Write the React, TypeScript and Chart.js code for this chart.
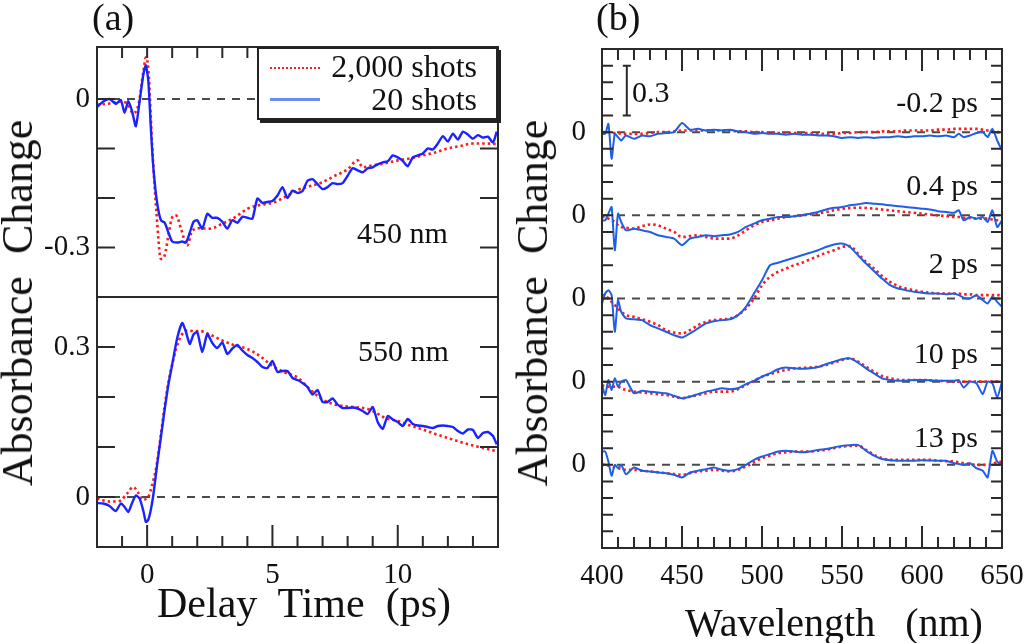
import { useEffect, useRef } from "react"
import Chart from "chart.js/auto"

// ── Look ─────────────────────────────────────────────────────
const SERIF   = "'Liberation Serif', 'Times New Roman', Times, serif"
const INK     = "#111111"
const FRAME   = "#2a2a2a"
const DASH    = "#4a4a4a"
const RED     = "#ff1a1a"
const BLUE_A  = "#1a22ff"
const BLUE_B  = "#1e5fe6"
const BLUE_LG = "#6a8cf0"

// ── (a) kinetics ─────────────────────────────────────────────
const A_X_MIN = -2
const A_X_MAX = 14

const T_BLUE = [
  -2, -1.75, -1.5, -1.25, -1.05, -0.9, -0.75, -0.6, -0.45, -0.3, -0.15, -0.05,
  0.05, 0.15, 0.25, 0.4, 0.55, 0.7, 0.85, 1.0,
  1.2, 1.4, 1.55, 1.7, 1.85, 2.0,
  2.2, 2.4, 2.6, 2.8, 3.0, 3.2, 3.4, 3.6, 3.8, 4.0,
  4.2, 4.4, 4.6, 4.8, 5.0, 5.2, 5.4, 5.6, 5.8, 6.0,
  6.2, 6.4, 6.6, 6.8, 7.0, 7.2, 7.4, 7.6, 7.8, 8.0,
  8.2, 8.4, 8.6, 8.8, 9.0, 9.2, 9.4, 9.6, 9.8, 10.0,
  10.2, 10.4, 10.6, 10.8, 11.0, 11.2, 11.4, 11.6, 11.8, 12.0,
  12.2, 12.4, 12.6, 12.8, 13.0, 13.2, 13.4, 13.6, 13.8,
  13.95,
]

// 450 nm, 20 shots
const ABS450_20 = [
  -0.016, -0.005, 0, -0.01, -0.002, -0.028, -0.004, -0.025, -0.055, -0.005, 0.05, 0.068,
  0.035, -0.06, -0.14, -0.21, -0.245, -0.25, -0.27, -0.288,
  -0.29, -0.288, -0.29, -0.27, -0.248, -0.245,
  -0.262, -0.232, -0.24, -0.24, -0.248, -0.262, -0.245, -0.25, -0.238, -0.24,
  -0.242, -0.201, -0.21, -0.208, -0.206, -0.195, -0.178, -0.2, -0.185, -0.19,
  -0.186, -0.165, -0.162, -0.172, -0.182, -0.178, -0.17, -0.172, -0.17, -0.155,
  -0.14, -0.144, -0.148, -0.14, -0.138, -0.132, -0.128, -0.126, -0.114, -0.118,
  -0.125, -0.136, -0.118, -0.114, -0.11, -0.1, -0.102, -0.09, -0.075, -0.086,
  -0.07, -0.082, -0.066, -0.072, -0.08, -0.073, -0.078, -0.076, -0.088,
  -0.066,
]

// 550 nm, 20 shots
const ABS550_20 = [
  -0.012, -0.013, -0.018, -0.028, -0.013, -0.02, -0.03, -0.012, 0.003, -0.003, -0.028, -0.05,
  -0.045, -0.025, 0.005, 0.065, 0.12, 0.175, 0.225, 0.265,
  0.318, 0.348, 0.33, 0.306, 0.325, 0.33,
  0.29, 0.326, 0.308, 0.298, 0.309, 0.286, 0.297, 0.304, 0.293, 0.284,
  0.278, 0.27, 0.26, 0.258, 0.272, 0.25, 0.252, 0.252, 0.238, 0.234,
  0.228, 0.22, 0.205, 0.214, 0.19, 0.19, 0.197, 0.185, 0.178, 0.178,
  0.179, 0.177, 0.172, 0.166, 0.18, 0.15, 0.136, 0.162, 0.155, 0.15,
  0.142, 0.156, 0.146, 0.143, 0.142, 0.14, 0.138, 0.142, 0.143, 0.142,
  0.14, 0.132, 0.127, 0.135, 0.134, 0.118, 0.128, 0.13, 0.122,
  0.105,
]

const T_RED = [
  -2, -1.5, -1.1, -0.8, -0.55, -0.35, -0.15, -0.05, 0.05, 0.2,
  0.37, 0.55, 0.7, 0.87, 1.0, 1.15, 1.35, 1.6, 1.8, 2.1,
  2.5, 3, 3.5, 4, 4.5, 5, 5.5, 6, 6.5, 7,
  7.5, 8, 8.4, 8.6, 9, 9.5, 10, 10.5, 11, 11.5,
  12, 12.5, 13, 13.5, 14,
]

// 450 nm, 2,000 shots
const ABS450_2000 = [
  -0.012, -0.009, -0.005, -0.009, -0.029, -0.012, 0.055, 0.084, 0.059, -0.093,
  -0.228, -0.323, -0.316, -0.269, -0.239, -0.235, -0.262, -0.296, -0.266, -0.261,
  -0.262, -0.252, -0.239, -0.222, -0.214, -0.21, -0.198, -0.184, -0.176, -0.168,
  -0.155, -0.142, -0.124, -0.138, -0.134, -0.13, -0.124, -0.12, -0.114, -0.108,
  -0.1, -0.095, -0.09, -0.09, -0.091,
]

// 550 nm, 2,000 shots
const ABS550_2000 = [
  -0.003, -0.009, -0.008, 0.007, 0.02, 0.008, -0.006, -0.004, 0.0, 0.024,
  0.061, 0.125, 0.182, 0.235, 0.265, 0.295, 0.322, 0.333, 0.332, 0.332,
  0.325, 0.313, 0.303, 0.296, 0.282, 0.262, 0.249, 0.239, 0.215, 0.195,
  0.185, 0.181, 0.179, 0.178, 0.172, 0.158, 0.152, 0.143, 0.135, 0.126,
  0.118, 0.11, 0.103, 0.097, 0.091,
]

const A_X_LABELS = [0, 5, 10]
const A_X_MINOR  = [-1, 1, 2, 3, 4, 6, 7, 8, 9, 11, 12, 13]
const A_TOP_Y_TICKS  = [-0.3, -0.2, -0.1, 0]
const A_TOP_Y_LABELS = [0, -0.3]
const A_BOT_Y_TICKS  = [0, 0.1, 0.2, 0.3]
const A_BOT_Y_LABELS = [0, 0.3]

// ── (b) spectra ──────────────────────────────────────────────
const WAVELENGTHS = [
  400, 402, 404, 406, 408, 410, 412,
  415, 420, 425, 430, 435, 440, 445, 450, 455, 460,
  465, 470, 475, 480, 485, 490, 495, 500, 505, 510,
  515, 520, 525, 530, 535, 540, 545, 550, 555, 560,
  565, 570, 575, 580, 585, 590, 595, 600, 605, 610,
  615, 620, 623, 626, 630, 634, 638, 641, 644, 647, 650,
]

const DELAYS  = ["-0.2 ps", "0.4 ps", "2 ps", "10 ps", "13 ps"]
const OFFSETS = [2.5, 2.0, 1.5, 1.0, 0.5]

const SPEC_M02_20 = [
  -0.01, -0.01, 0.05, -0.16, -0.01, -0.03, -0.05,
  -0.02, -0.04, -0.02, -0.025, -0.01, -0.005, 0.0, 0.055, 0.015, 0.02,
  0.01, 0.015, 0.01, 0.015, 0.005, 0.0, -0.01, -0.005, -0.01, -0.01,
  -0.015, -0.01, -0.015, -0.015, -0.02, -0.02, -0.025, -0.035, -0.03, -0.035,
  -0.03, -0.035, -0.03, -0.03, -0.025, -0.03, -0.025, -0.025, -0.02, -0.025,
  -0.02, -0.03, -0.01, -0.03, -0.02, -0.005, 0.0, -0.03, 0.02, -0.05, -0.11,
]
const SPEC_M02_2000 = [
  0, 0, 0, -0.005, -0.005, -0.005, -0.01,
  -0.01, -0.01, -0.01, -0.005, 0, 0, 0.005, 0.01, 0.01, 0.01,
  0.01, 0.01, 0.01, 0.01, 0.005, 0.005, 0, 0, -0.005, -0.005,
  -0.005, -0.005, -0.005, -0.005, -0.01, -0.01, -0.01, -0.005, -0.005, 0,
  0, 0, 0.005, 0.005, 0.005, 0.01, 0.01, 0.01, 0.01, 0.015,
  0.015, 0.02, 0.02, 0.02, 0.02, 0.02, 0.015, 0.01, 0.005, 0, 0,
]
const SPEC_04_20 = [
  -0.03, -0.03, 0.01, 0.05, -0.21, 0.01, -0.04,
  -0.09, -0.08, -0.09, -0.1, -0.12, -0.13, -0.14, -0.18, -0.14, -0.13,
  -0.12, -0.125, -0.12, -0.115, -0.1, -0.07, -0.05, -0.03, -0.02, -0.01,
  -0.01, -0.005, 0, 0.01, 0.02, 0.035, 0.045, 0.05, 0.06, 0.066,
  0.074, 0.07, 0.066, 0.06, 0.055, 0.05, 0.045, 0.04, 0.035, 0.025,
  0.02, 0.015, 0.03, -0.03, -0.01, -0.02, -0.01, -0.04, 0.03, -0.07, -0.03,
]
const SPEC_04_2000 = [
  -0.01, -0.01, -0.02, -0.03, -0.04, -0.06, -0.07,
  -0.075, -0.08, -0.065, -0.055, -0.06, -0.08, -0.1, -0.13, -0.125, -0.12,
  -0.13, -0.14, -0.14, -0.14, -0.12, -0.09, -0.06, -0.04, -0.03, -0.02,
  -0.01, -0.006, 0, 0.006, 0.012, 0.02, 0.03, 0.04, 0.044, 0.046,
  0.044, 0.04, 0.035, 0.03, 0.025, 0.02, 0.015, 0.01, 0.005, 0,
  -0.005, -0.01, -0.01, -0.015, -0.015, -0.02, -0.02, -0.02, -0.025, -0.03, -0.03,
]
const SPEC_2_20 = [
  -0.03, 0.03, 0.05, 0.02, -0.2, -0.01, -0.08,
  -0.12, -0.125, -0.13, -0.16, -0.18, -0.2, -0.22, -0.235, -0.21, -0.18,
  -0.15, -0.137, -0.13, -0.125, -0.1, -0.05, 0.03, 0.11, 0.2, 0.215,
  0.23, 0.245, 0.26, 0.275, 0.29, 0.31, 0.325, 0.33, 0.31, 0.26,
  0.21, 0.165, 0.12, 0.08, 0.06, 0.05, 0.04, 0.035, 0.03, 0.03,
  0.025, 0.03, 0.02, 0.005, 0, 0.02, -0.01, -0.03, 0.01, -0.02, -0.05,
]
const SPEC_2_2000 = [
  0.02, 0.02, 0, -0.02, -0.04, -0.06, -0.08,
  -0.1, -0.11, -0.125, -0.14, -0.16, -0.19, -0.205, -0.21, -0.19, -0.16,
  -0.14, -0.13, -0.125, -0.12, -0.1, -0.06, 0, 0.08, 0.13, 0.16,
  0.18, 0.2, 0.215, 0.235, 0.255, 0.275, 0.29, 0.31, 0.315, 0.27,
  0.22, 0.18, 0.135, 0.1, 0.075, 0.06, 0.05, 0.04, 0.035, 0.03,
  0.03, 0.03, 0.03, 0.025, 0.025, 0.02, 0.02, 0.02, 0.02, 0.02, 0.02,
]
const SPEC_10_20 = [
  -0.02, -0.08, 0.01, -0.05, 0.02, -0.03, 0,
  0.01, -0.07, -0.055, -0.06, -0.065, -0.07, -0.085, -0.1, -0.09, -0.075,
  -0.06, -0.05, -0.04, -0.045, -0.04, -0.015, 0.005, 0.03, 0.05, 0.075,
  0.085, 0.08, 0.077, 0.08, 0.088, 0.105, 0.12, 0.135, 0.14, 0.115,
  0.08, 0.05, 0.02, 0.01, 0.006, 0.006, 0.01, 0.01, 0.008, 0.005,
  0.006, 0.005, 0.01, -0.035, 0, -0.01, -0.075, 0, -0.01, -0.095, 0,
]
const SPEC_10_2000 = [
  -0.02, -0.03, -0.03, -0.03, -0.03, -0.03, -0.04,
  -0.05, -0.06, -0.065, -0.07, -0.075, -0.08, -0.09, -0.1, -0.09, -0.08,
  -0.07, -0.06, -0.06, -0.06, -0.045, -0.02, 0.005, 0.03, 0.045, 0.06,
  0.07, 0.08, 0.083, 0.085, 0.09, 0.1, 0.115, 0.13, 0.14, 0.12,
  0.09, 0.06, 0.035, 0.02, 0.012, 0.01, 0.01, 0.01, 0.008, 0.005,
  0.003, 0, 0, 0, 0, 0, 0, 0, 0, 0, 0,
]
const SPEC_13_20 = [
  0.08, 0.08, 0.02, -0.066, 0, -0.02, 0,
  -0.056, -0.016, -0.036, -0.04, -0.046, -0.05, -0.06, -0.076, -0.046, -0.035,
  -0.026, -0.016, -0.03, -0.036, -0.026, 0, 0.03, 0.05, 0.065, 0.08,
  0.085, 0.08, 0.075, 0.08, 0.09, 0.095, 0.105, 0.114, 0.118, 0.12,
  0.085, 0.055, 0.035, 0.028, 0.025, 0.024, 0.025, 0.028, 0.026, 0.024,
  0.024, 0.01, 0.005, 0, 0.01, -0.02, -0.036, -0.076, 0.084, 0.02, 0,
]
const SPEC_13_2000 = [
  0, 0, -0.005, -0.01, -0.015, -0.02, -0.025,
  -0.03, -0.03, -0.035, -0.04, -0.045, -0.05, -0.055, -0.06, -0.05, -0.04,
  -0.035, -0.03, -0.035, -0.04, -0.03, -0.01, 0.015, 0.04, 0.055, 0.07,
  0.075, 0.08, 0.08, 0.08, 0.085, 0.09, 0.1, 0.11, 0.113, 0.115,
  0.09, 0.06, 0.04, 0.03, 0.03, 0.03, 0.03, 0.03, 0.03, 0.025,
  0.022, 0.02, 0.015, 0.01, 0.005, 0, 0, 0, 0.005, 0.015, 0.02,
]

const SPECTRA_20   = [SPEC_M02_20, SPEC_04_20, SPEC_2_20, SPEC_10_20, SPEC_13_20]
const SPECTRA_2000 = [SPEC_M02_2000, SPEC_04_2000, SPEC_2_2000, SPEC_10_2000, SPEC_13_2000]

const B_X_MIN = 400
const B_X_MAX = 650
const B_X_LABELS = [400, 450, 500, 550, 600, 650]
const B_X_MAJOR  = [450, 500, 550, 600]
const B_X_MINOR  = [410, 420, 430, 440, 460, 470, 480, 490, 510, 520, 530, 540, 560, 570, 580, 590, 610, 620, 630, 640]
const B_Y_MINOR  = Array.from({ length: 29 }, (_, i) => (i + 1) / 10)
const SCALE_BAR  = { x: 415.5, y0: 2.6, y1: 2.9 }

// ── Frame + inward ticks ─────────────────────────────────────
type Marks = { values: number[]; len: number }
type FrameSpec = {
  x: Marks[]; xSides: ("top" | "bottom")[]
  y: Marks[]; ySides: ("left" | "right")[]
  bar?: { x: number; y0: number; y1: number }
}

function framePlugin(spec: FrameSpec) {
  return {
    id: "frame",
    afterDatasetsDraw(chart: any) {
      const { ctx, chartArea: a } = chart
      const sx = chart.scales.x
      const sy = chart.scales.y
      ctx.save()
      ctx.strokeStyle = FRAME
      ctx.lineWidth = 2
      ctx.beginPath()
      spec.x.forEach(m => m.values.forEach(v => {
        const px = sx.getPixelForValue(v)
        if (spec.xSides.includes("top"))    { ctx.moveTo(px, a.top);    ctx.lineTo(px, a.top + m.len) }
        if (spec.xSides.includes("bottom")) { ctx.moveTo(px, a.bottom); ctx.lineTo(px, a.bottom - m.len) }
      }))
      spec.y.forEach(m => m.values.forEach(v => {
        const py = sy.getPixelForValue(v)
        if (spec.ySides.includes("left"))  { ctx.moveTo(a.left, py);  ctx.lineTo(a.left + m.len, py) }
        if (spec.ySides.includes("right")) { ctx.moveTo(a.right, py); ctx.lineTo(a.right - m.len, py) }
      }))
      if (spec.bar) {
        const bx = sx.getPixelForValue(spec.bar.x)
        const y0 = sy.getPixelForValue(spec.bar.y0)
        const y1 = sy.getPixelForValue(spec.bar.y1)
        ctx.moveTo(bx, y0); ctx.lineTo(bx, y1)
        ctx.moveTo(bx - 4, y0); ctx.lineTo(bx + 4, y0)
        ctx.moveTo(bx - 4, y1); ctx.lineTo(bx + 4, y1)
      }
      ctx.stroke()
      ctx.strokeRect(a.left, a.top, a.right - a.left, a.bottom - a.top)
      ctx.restore()
    },
  }
}

const tickFont = { family: SERIF, size: 29 }

function yAxis(min: number, max: number, labels: number[], width: number, pad: number, fmt: (v: number) => string) {
  return {
    type: "linear" as const,
    min, max,
    grid:   { display: false, drawTicks: false },
    border: { display: false },
    ticks:  { font: tickFont, color: INK, padding: pad, callback: (v: any) => fmt(Number(v)) },
    afterBuildTicks: (s: any) => { s.ticks = labels.map(value => ({ value })) },
    afterFit: (s: any) => { s.width = width; s.paddingTop = 0; s.paddingBottom = 0 },
  }
}

function xAxis(min: number, max: number, labels: number[] | null, height: number) {
  return {
    type: "linear" as const,
    min, max,
    display: labels !== null,
    grid:   { display: false, drawTicks: false },
    border: { display: false },
    ticks:  { font: tickFont, color: INK, padding: 11, maxRotation: 0, autoSkip: false, callback: (v: any) => String(v) },
    afterBuildTicks: (s: any) => { if (labels) s.ticks = labels.map(value => ({ value })) },
    afterFit: (s: any) => { s.height = height; s.paddingLeft = 0; s.paddingRight = 0 },
  }
}

const xy = (xs: number[], ys: number[], off = 0) => xs.map((x, i) => ({ x, y: ys[i] + off }))

const blueLine = (data: any[], color: string, width: number) =>
  ({ data, borderColor: color, borderWidth: width, pointRadius: 0, tension: 0.2 })
const redLine = (data: any[]) =>
  ({ data, borderColor: RED, borderWidth: 2.6, borderDash: [2.5, 3], pointRadius: 0, cubicInterpolationMode: "monotone" as const })
const zeroLine = (x0: number, x1: number, y: number) =>
  ({ data: [{ x: x0, y }, { x: x1, y }], borderColor: DASH, borderWidth: 2, borderDash: [8, 7], pointRadius: 0 })

const baseOptions = {
  responsive: false,
  animation: false as const,
  events: [],
  plugins: { legend: { display: false }, tooltip: { enabled: false } },
}

// ── Panel configs ────────────────────────────────────────────
function panelATop(): any {
  return {
    type: "line",
    data: {
      datasets: [
        blueLine(xy(T_BLUE, ABS450_20), BLUE_A, 2.4),
        redLine(xy(T_RED, ABS450_2000)),
        zeroLine(A_X_MIN, A_X_MAX, 0),
      ],
    },
    options: {
      ...baseOptions,
      layout: { padding: { top: 47, right: 22, bottom: 3, left: 0 } },
      scales: {
        x: xAxis(A_X_MIN, A_X_MAX, null, 0),
        y: yAxis(-0.4, 0.105, A_TOP_Y_LABELS, 97, 7, v => String(v)),
      },
    },
    plugins: [framePlugin({
      x: [{ values: A_X_LABELS, len: 11 }, { values: A_X_MINOR, len: 11 }], xSides: ["top"],
      y: [{ values: A_TOP_Y_TICKS, len: 18 }], ySides: ["left", "right"],
    })],
  }
}

function panelABottom(): any {
  return {
    type: "line",
    data: {
      datasets: [
        blueLine(xy(T_BLUE, ABS550_20), BLUE_A, 2.4),
        redLine(xy(T_RED, ABS550_2000)),
        zeroLine(A_X_MIN, A_X_MAX, 0),
      ],
    },
    options: {
      ...baseOptions,
      layout: { padding: { top: 3, right: 22, bottom: 0, left: 0 } },
      scales: {
        x: xAxis(A_X_MIN, A_X_MAX, A_X_LABELS, 96),
        y: yAxis(-0.1, 0.4, A_BOT_Y_LABELS, 97, 7, v => String(v)),
      },
    },
    plugins: [framePlugin({
      x: [{ values: A_X_LABELS, len: 22 }, { values: A_X_MINOR, len: 11 }], xSides: ["bottom"],
      y: [{ values: A_BOT_Y_TICKS, len: 18 }], ySides: ["left", "right"],
    })],
  }
}

function panelB(): any {
  return {
    type: "line",
    data: {
      datasets: [
        ...SPECTRA_20.map((s, i) => blueLine(xy(WAVELENGTHS, s, OFFSETS[i]), BLUE_B, 2)),
        ...SPECTRA_2000.map((s, i) => redLine(xy(WAVELENGTHS, s, OFFSETS[i]))),
        ...OFFSETS.map(o => zeroLine(B_X_MIN, B_X_MAX, o)),
      ],
    },
    options: {
      ...baseOptions,
      layout: { padding: { top: 49, right: 22, bottom: 0, left: 0 } },
      scales: {
        x: xAxis(B_X_MIN, B_X_MAX, B_X_LABELS, 95),
        y: yAxis(0, 3, OFFSETS, 82, 16, () => "0"),
      },
    },
    plugins: [framePlugin({
      x: [{ values: B_X_MAJOR, len: 22 }, { values: B_X_MINOR, len: 11 }], xSides: ["top", "bottom"],
      y: [{ values: B_Y_MINOR, len: 11 }], ySides: ["left", "right"],
      bar: SCALE_BAR,
    })],
  }
}

// ── Pieces ───────────────────────────────────────────────────
function ChartCanvas({ make, left, top, width, height }:
  { make: () => any; left: number; top: number; width: number; height: number }) {
  const ref = useRef<HTMLCanvasElement>(null)
  useEffect(() => {
    if (!ref.current) return
    const chart = new Chart(ref.current, make())
    return () => chart.destroy()
  }, [])
  return (
    <canvas ref={ref} width={width} height={height}
      style={{ position: "absolute", left, top, width, height }} />
  )
}

function Txt({ x, y, size, right, children }:
  { x: number; y: number; size: number; right?: boolean; children: React.ReactNode }) {
  return (
    <div style={{
      position: "absolute", top: y, fontSize: size, lineHeight: 1, whiteSpace: "pre",
      ...(right ? { right: 1024 - x } : { left: x }),
    }}>{children}</div>
  )
}

function YTitle({ cx }: { cx: number }) {
  return (
    <div style={{
      position: "absolute", left: cx, top: 303, fontSize: 44, lineHeight: 1, whiteSpace: "pre",
      transform: "translate(-50%, -50%) rotate(-90deg)",
    }}>{"Absorbance  Change"}</div>
  )
}

function XTitle({ cx, y, size, text }: { cx: number; y: number; size: number; text: string }) {
  return (
    <div style={{
      position: "absolute", left: cx, top: y, fontSize: size, lineHeight: 1, whiteSpace: "pre",
      transform: "translateX(-50%)",
    }}>{text}</div>
  )
}

const DELAY_TOPS = [87, 170, 248, 338, 422]

export default function App() {
  return (
    <div style={{
      position: "absolute", left: 0, top: 0, width: 1024, height: 643, overflow: "hidden",
      background: "#fff", color: INK, fontFamily: SERIF,
    }}>
      <ChartCanvas make={panelATop}    left={0}   top={0}   width={520} height={300} />
      <ChartCanvas make={panelABottom} left={0}   top={294} width={520} height={349} />
      <ChartCanvas make={panelB}       left={520} top={0}   width={504} height={643} />

      <Txt x={92} y={-2} size={38}>(a)</Txt>
      <Txt x={596} y={-2} size={38}>(b)</Txt>

      <YTitle cx={18} />
      <YTitle cx={533} />
      <XTitle cx={304} y={582} size={42} text={"Delay  Time  (ps)"} />
      <XTitle cx={834} y={603} size={40} text={"Wavelength   (nm)"} />

      <Txt x={357} y={218} size={30}>450 nm</Txt>
      <Txt x={358} y={336} size={30}>550 nm</Txt>

      {DELAYS.map((d, i) => (
        <Txt key={d} x={978} y={DELAY_TOPS[i]} size={30} right>{d}</Txt>
      ))}
      <Txt x={632} y={77} size={30}>0.3</Txt>

      {/* legend */}
      <div style={{
        position: "absolute", left: 257, top: 47, width: 237, height: 69,
        background: "#fff", border: "2px solid #222", boxShadow: "3px 3px 0 #222",
      }} />
      <div style={{ position: "absolute", left: 270, top: 67, width: 50, borderTop: `2px dotted ${RED}` }} />
      <div style={{ position: "absolute", left: 270, top: 98, width: 50, height: 3, background: BLUE_LG }} />
      <Txt x={477} y={50} size={32} right>2,000 shots</Txt>
      <Txt x={477} y={83} size={32} right>20 shots</Txt>
    </div>
  )
}
